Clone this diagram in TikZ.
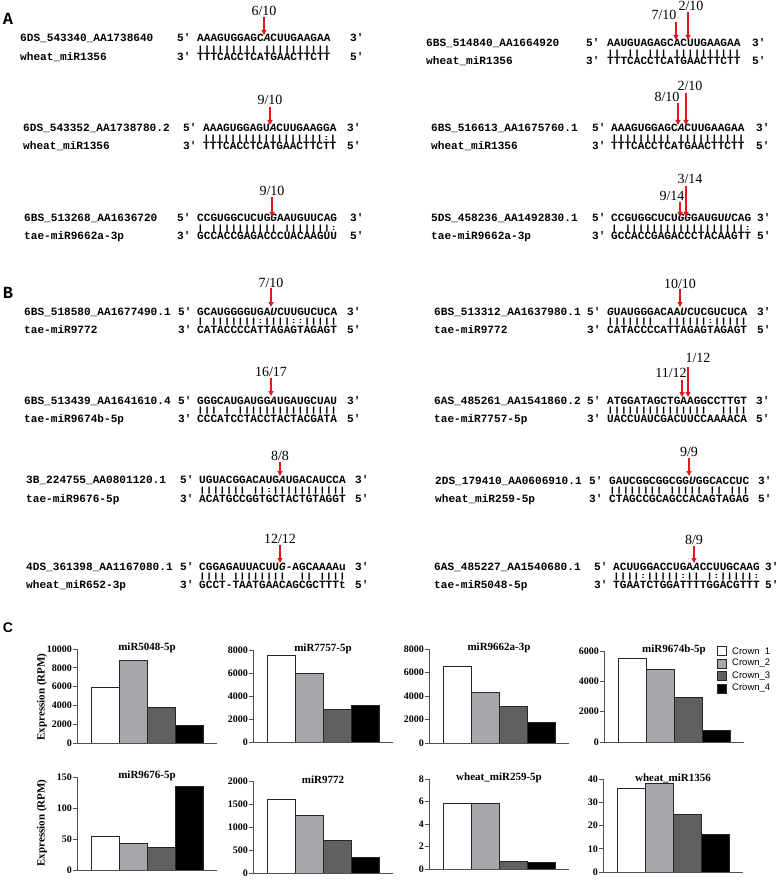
\documentclass[tikz,border=0pt]{standalone}
\usepackage{fontspec}
\usepackage{graphicx}
\setmainfont{Liberation Serif}
\setsansfont{Liberation Sans}
\setmonofont{Liberation Mono}
\usetikzlibrary{arrows.meta}
\definecolor{cutred}{HTML}{E3161C}
\definecolor{cg}{HTML}{A6A6AB}
\definecolor{cd}{HTML}{606060}
\definecolor{axc}{HTML}{505050}
\tikzset{
  seq/.style={font=\ttfamily\bfseries\fontsize{11.1}{12}\selectfont, anchor=west, inner sep=0pt, text height=8pt, text depth=2pt},
  cutarrow/.style={cutred, line width=1.3pt, -{Triangle[width=5pt,length=5pt]}},
  fraclab/.style={font=\fontsize{14}{14}\selectfont, inner sep=0pt},
  panelmono/.style={font=\ttfamily\bfseries\fontsize{17}{17}\selectfont, inner sep=0pt},
  panelsans/.style={font=\sffamily\bfseries\fontsize{14}{14}\selectfont, inner sep=0pt},
  tick/.style={font=\bfseries\fontsize{10}{10}\selectfont, anchor=east, inner sep=0pt},
  ctitle/.style={font=\bfseries\fontsize{11}{11}\selectfont, inner sep=0pt},
  ylab/.style={font=\bfseries\fontsize{11}{11}\selectfont, inner sep=0pt, rotate=90},
  axisline/.style={axc, line width=0.9pt},
  barline/.style={draw=black!85, line width=0.7pt},
  legbox/.style={draw=black!85, line width=0.6pt, minimum size=9pt, inner sep=0pt},
  legtext/.style={font=\sffamily\fontsize{9.5}{10}\selectfont, anchor=west, inner sep=0pt},
}
\newcommand\pq{\textquotesingle}
\newcommand\rowgeom[6]{\def\rLx{#1}\def\rTy{#2}\def\rBy{#3}\def\rPf{#4}\def\rSx{#5}\def\rPt{#6}}
\newcommand\rowtext[6]{%
  \node[seq] (#1l1) at (\rLx,\rTy) {#2};
  \node[seq] (#1f1) at (\rPf,\rTy) {5\pq};
  \node[seq] (#1s1) at (\rSx,\rTy) {#3};
  \node[seq] (#1t1) at (\rPt,\rTy) {3\pq};
  \node[seq] (#1p) at (\rSx,{(\rTy+\rBy)/2-0.3}) {\scalebox{1}[0.68]{#4}};
  \node[seq] (#1l2) at (\rLx,\rBy) {#5};
  \node[seq] (#1f2) at (\rPf,\rBy) {3\pq};
  \node[seq] (#1s2) at (\rSx,\rBy) {#6};
  \node[seq] (#1t2) at (\rPt,\rBy) {5\pq};
}
\newcommand\cut[7]{%
  \coordinate (#1a) at (#2,#3);
  \coordinate (#1b) at (#2,#4);
  \draw[cutarrow] (#1a) -- (#1b);
  \node[fraclab] (#1n) at (#5,#6) {#7};
}
\newcommand\barchart[7]{%
  \def\ax{#2}\def\yz{#3}\def\yt{#4}\def\vmax{#5}%
  \pgfmathtruncatemacro\nt{#5/#6}%
  \foreach \i in {0,...,\nt}{%
    \pgfmathsetmacro\yy{#3-(#3-#4)*\i/\nt}%
    \pgfmathtruncatemacro\lab{\i*#6}%
    \draw[axisline] (#2,\yy) -- (#2-4,\yy);%
    \node[tick] at (#2-5,\yy) {\lab};%
  }%
  \node[ctitle] (#1) at (#2+70,#4-1) {#7};%
}
\newcommand\drawbar[3]{%
  \pgfmathsetmacro\xl{\ax+14+28*#1}%
  \pgfmathsetmacro\fr{#2/\vmax}%
  \pgfmathsetmacro\yb{\yz-\fr*(\yz-\yt)}%
  \draw[barline, fill=#3] (\xl,\yz) rectangle (\xl+28,\yb);%
}
\newcommand\bars[4]{%
  \drawbar{0}{#1}{white}\drawbar{1}{#2}{cg}\drawbar{2}{#3}{cd}\drawbar{3}{#4}{black}%
  \draw[axisline] (\ax,\yt) -- (\ax,\yz) -- (\ax+140,\yz);%
}
\begin{document}
\begin{tikzpicture}[x=1pt,y=-1pt]
\useasboundingbox[fill=white] (0,0) rectangle (778,882);

% Panel letters
\node[panelmono] (pA) at (8,19) {A};
\node[panelmono] (pB) at (8,293) {B};
\node[panelsans] (pC) at (8,628) {C};

% ---------- Panel A ----------
\rowgeom{20}{39}{58}{177}{197}{350}
\rowtext{a1}{6DS\_543340\_AA1738640}{AAAGUGGAGC\textit{A}CUUGAAGAA}{|||||||||~||||||||||}{wheat\_miR1356}{TTTCACCTCATGAACTTCTT}
\cut{c1}{264}{17}{35}{264}{11}{6/10}

\rowgeom{426}{44}{62}{586}{607}{752}
\rowtext{a2}{6BS\_514840\_AA1664920}{AAUGUAGAGCACUUGAAGAA}{||~||~|||~||||||||||}{wheat\_miR1356}{TTTCACCTCATGAACTTCTT}
\cut{c2}{676}{22}{40}{664}{15}{7/10}
\cut{c3}{688}{12}{40}{691}{6}{2/10}

\rowgeom{23}{129}{147}{183}{203}{347}
\rowtext{a3}{6DS\_543352\_AA1738780.2}{AAAGUGGAGU\textit{A}CUUGAAGGA}{||||||||||||||||||:|}{wheat\_miR1356}{TTTCACCTCATGAACTTCTT}
\cut{c4}{270}{107}{125}{270}{100}{9/10}

\rowgeom{431}{129}{147}{592}{611}{756}
\rowtext{a4}{6BS\_516613\_AA1675760.1}{AAAGUGGAGC\textit{A}CUUGAAGAA}{|||||||||~||||||||||}{wheat\_miR1356}{TTTCACCTCATGAACTTCTT}
\cut{c5}{678}{103}{125}{667}{97}{8/10}
\cut{c6}{686}{93}{125}{690}{86}{2/10}

\rowgeom{24}{219}{237}{177}{197}{350}
\rowtext{a5}{6BS\_513268\_AA1636720}{CCGUGGCUCUG\textit{G}AAUGUUCAG}{|~||||||||||~|||||||:}{tae-miR9662a-3p}{GCCACCGAGACCCUACAAGUU}
\cut{c7}{272}{197}{217}{272}{191}{9/10}

\rowgeom{431}{219}{237}{592}{611}{757}
\rowtext{a6}{5DS\_458236\_AA1492830.1}{CCGUGGCUCU\textit{GG}GAUGU\textit{U}CAG}{|~||||||||||||||||||:}{tae-miR9662a-3p}{GCCACCGAGACCCTACAAGTT}
\cut{c8}{680}{202}{217}{672}{196}{9/14}
\cut{c9}{686}{186}{217}{690}{179}{3/14}

% ---------- Panel B ----------
\rowgeom{24}{312}{330}{178}{197}{347}
\rowtext{b1}{6BS\_518580\_AA1677490.1}{GCAUGGGGUGA\textit{U}CUUGUCUCA}{|~|||||||:||||::|||||}{tae-miR9772}{CATACCCCATTAGAGTAGAGT}
\cut{d1}{271}{288}{307}{271}{283}{7/10}

\rowgeom{434}{312}{330}{587}{607}{757}
\rowtext{b2}{6BS\_513312\_AA1637980.1}{\textit{G}UAUGGGACAA\textit{U}CUCGUCUCA}{|||||||~~||||||:|||||}{tae-miR9772}{CATACCCCATTAGAGTAGAGT}
\cut{d2}{680}{289}{307}{680}{284}{10/10}

\rowgeom{24}{401}{419}{178}{197}{347}
\rowtext{b3}{6BS\_513439\_AA1641610.4}{GGGCAUGAUGG\textit{A}UGAUGCUAU}{|||~|~|||||||||||||||}{tae-miR9674b-5p}{CCCATCCTACCTACTACGATA}
\cut{d3}{271}{378}{396}{271}{372}{16/17}

\rowgeom{434}{401}{419}{587}{607}{756}
\rowtext{b4}{6AS\_485261\_AA1541860.2}{ATGGATAGCTGAAGGCCTTGT}{|||||||||||||||~~||||}{tae-miR7757-5p}{UACCUAUCGACUUCCAAAACA}
\cut{d4}{682}{380}{397}{671}{373}{11/12}
\cut{d5}{688}{367}{397}{698}{358}{1/12}

\rowgeom{26}{480}{499}{180}{199}{355}
\rowtext{b5}{3B\_224755\_AA0801120.1}{UGUACGGACAUG\textit{A}UGACAUCCA}{|||||||~||:|||||||||||}{tae-miR9676-5p}{ACATGCCGGTGCTACTGTAGGT}
\cut{d6}{280}{462}{476}{280}{456}{8/8}

\rowgeom{435}{481}{499}{589}{609}{758}
\rowtext{b6}{2DS\_179410\_AA0606910.1}{GAUCGGCGGCGG\textit{U}GGCACCUC}{||||||||~|||||~||~|||}{wheat\_miR259-5p}{CTAGCCGCAGCCACAGTAGAG}
\cut{d7}{689}{458}{476}{689}{452}{9/9}

\rowgeom{26}{567}{585}{180}{199}{355}
\rowtext{b7}{4DS\_361398\_AA1167080.1}{CGGAGAUUACUU\textit{G}-AGCAAAAu}{||||~||||||||~~||~||||}{wheat\_miR652-3p}{GCCT-TAATGAACAGCGCTTTt}
\cut{d8}{280}{545}{563}{280}{539}{12/12}

\rowgeom{434}{567}{585}{594}{613}{765}
\rowtext{b8}{6AS\_485227\_AA1540680.1}{ACUUGGACCUGA\textit{A}CCUUGCAAG}{||||:|||||:||~|:|||||:}{tae-miR5048-5p}{TGAATCTGGATTTTGGACGTTT}
\cut{d9}{694}{546}{563}{694}{540}{8/9}

% ---------- Panel C ----------
\node[ylab] (yl1) at (42,697) {Expression (RPM)};
\node[ylab] (yl2) at (42,823) {Expression (RPM)};

\barchart{t1}{77}{743}{649}{10000}{2000}{miR5048-5p}
\bars{5900}{8800}{3800}{1900}
\barchart{t2}{253}{742}{650}{8000}{2000}{miR7757-5p}
\bars{7500}{6000}{2800}{3150}
\barchart{t3}{429}{743}{649}{8000}{2000}{miR9662a-3p}
\bars{6500}{4300}{3150}{1800}
\barchart{t4}{604}{742}{651}{6000}{2000}{miR9674b-5p}
\bars{5500}{4800}{2950}{800}

\barchart{t5}{77}{870}{777}{150}{50}{miR9676-5p}
\bars{55}{43}{36}{135}
\barchart{t6}{253}{873}{781}{2000}{500}{miR9772}
\bars{1600}{1250}{720}{340}
\barchart{t7}{429}{869}{779}{8}{2}{wheat\_miR259-5p}
\bars{5.85}{5.85}{0.7}{0.55}
\barchart{t8}{603}{872}{779}{40}{10}{wheat\_miR1356}
\bars{36}{38}{25}{16}

% Legend
\node[legbox, fill=white] (lg1) at (721.5,651) {};
\node[legbox, fill=cg] (lg2) at (721.5,663.5) {};
\node[legbox, fill=cd] (lg3) at (721.5,676) {};
\node[legbox, fill=black] (lg4) at (721.5,688.5) {};
\node[legtext] (lt1) at (732,651) {Crown~~1};
\node[legtext] (lt2) at (732,663.5) {Crown\_2};
\node[legtext] (lt3) at (732,676) {Crown\_3};
\node[legtext] (lt4) at (732,688.5) {Crown\_4};
\end{tikzpicture}
\end{document}
